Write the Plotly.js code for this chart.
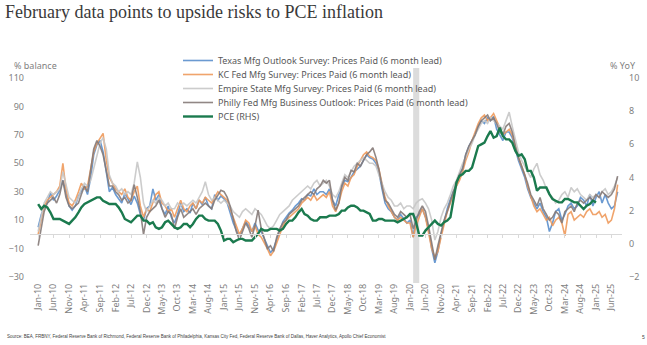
<!DOCTYPE html>
<html>
<head>
<meta charset="utf-8">
<script src="https://cdn.plot.ly/plotly-3.0.1.min.js"></script>
<style>html,body{margin:0;padding:0;background:#fff;}#chart{width:647px;height:345px;}</style>
</head>
<body>
<div id="chart"></div>
<script>
// ---- Data (monthly, Jan-10 .. Aug-25; surveys plotted with a 6 month lead) ----
const startYear = 2010;
const surveyMonths = 188; // Jan-10 .. Aug-25
const pceMonths = 181;    // Jan-10 .. Jan-25

const seriesNames = [
  "Texas Mfg Outlook Survey: Prices Paid (6 month lead)",
  "KC Fed Mfg Survey: Prices Paid (6 month lead)",
  "Empire State Mfg Survey: Prices Paid (6 month lead)",
  "Philly Fed Mfg Business Outlook: Prices Paid (6 month lead)",
  "PCE (RHS)"
];

const texas = [
  5, 14, 19, 22, 29, 24, 27, 31, 38, 30, 20, 17,
  20, 27, 30, 34, 28, 40, 56, 63, 66, 58, 44, 30,
  33, 28, 25, 22, 29, 25, 21, 27, 22, 14, 10, 18,
  20, 32, 24, 28, 18, 14, 20, 12, 8, 14, 22, 16,
  18, 15, 22, 18, 24, 21, 26, 20, 18, 28, 24, 27,
  25, 22, 15, 8, 3, -1, 4, 9, 6, 2, 8, 3,
  2, -3, -8, -13, -10, -4, 2, 9, 12, 15, 17, 20,
  22, 25, 24, 28, 27, 32, 28, 30, 30, 28, 32, 24,
  20, 28, 33, 38, 37, 40, 44, 46, 48, 52, 56, 54,
  53, 50, 44, 32, 22, 18, 16, 12, 10, 14, 11, 8,
  10, -2, 12, 14, 18, 12, 4, -10, -20, -12, 0, 10,
  18, 25, 30, 34, 42, 47, 56, 62, 66, 70, 76, 80,
  78, 82, 80, 83, 74, 70, 66, 72, 72, 68, 60, 52,
  46, 40, 32, 26, 22, 18, 22, 16, 12, 2, 8, 16,
  18, 10, 14, 20, 22, 18, 20, 26, 24, 20, 28, 20,
  26, 30, 22, 28, 22, 18, 20, 30
];

const kcFed = [
  0, 10, 20, 24, 26, 28, 30, 34, 50, 32, 22, 20,
  24, 30, 36, 32, 34, 46, 58, 64, 68, 71, 52, 40,
  36, 32, 30, 28, 32, 26, 24, 30, 34, 20, 12, 18,
  16, 22, 28, 30, 22, 20, 16, 18, 12, 18, 24, 18,
  16, 20, 22, 18, 24, 22, 26, 24, 22, 26, 30, 28,
  26, 24, 18, 12, 6, 0, 4, 10, 8, 2, 6, 0,
  -2, -6, -10, -15, -12, -6, 0, 6, 10, 12, 14, 16,
  18, 22, 24, 26, 24, 28, 24, 26, 28, 26, 30, 20,
  16, 22, 30, 36, 34, 40, 42, 48, 52, 56, 58, 55,
  54, 52, 46, 36, 26, 20, 16, 12, 10, 12, 10, 8,
  8, -2, 6, 12, 18, 12, 0, -10, -16, -12, -2, 8,
  16, 22, 28, 34, 38, 44, 52, 58, 66, 72, 78, 82,
  84, 80, 82, 85, 80, 74, 70, 72, 74, 70, 62, 54,
  48, 42, 34, 26, 20, 16, 18, 14, 10, 12, 6, 10,
  12, 8, -1, 14, 16, 10, 12, 14, 12, 16, 18, 14,
  14, 16, 12, 14, 8, 10, 18, 35
];

const empire = [
  2, 14, 22, 26, 30, 28, 30, 32, 44, 36, 26, 24,
  22, 26, 32, 36, 34, 38, 46, 56, 64, 68, 60, 42,
  36, 34, 30, 32, 28, 30, 28, 36, 51, 40, 22, 16,
  20, 24, 22, 26, 24, 20, 22, 18, 18, 22, 20, 22,
  20, 22, 24, 22, 26, 30, 37, 28, 24, 26, 24, 22,
  24, 22, 20, 16, 14, 12, 16, 18, 16, 14, 18, 16,
  14, 10, 6, 4, 6, 10, 14, 16, 18, 20, 24, 26,
  28, 30, 32, 34, 32, 36, 38, 34, 36, 38, 34, 28,
  26, 30, 36, 42, 40, 44, 48, 50, 52, 54, 52, 50,
  50, 48, 42, 36, 30, 26, 24, 20, 20, 22, 18, 20,
  20, 18, 22, 24, 25, 22, 18, 10, -4, 2, 12, 18,
  22, 28, 34, 38, 44, 50, 54, 60, 64, 70, 74, 78,
  80, 78, 82, 80, 78, 76, 74, 80, 86, 76, 66, 58,
  52, 48, 44, 40, 46, 50, 42, 38, 32, 28, 26, 22,
  24, 28, 30, 26, 33, 30, 32, 28, 26, 24, 28, 26,
  28, 26, 30, 32, 28, 30, 34, 40
];

const philly = [
  -8, 6, 16, 22, 24, 26, 22, 28, 38, 26, 20, 18,
  20, 22, 28, 34, 30, 44, 60, 66, 62, 56, 46, 34,
  34, 30, 28, 24, 26, 22, 24, 35, 26, 16, 0, 12,
  16, 18, 20, 24, 18, 12, 16, 14, 4, 12, 18, 12,
  14, 16, 18, 14, 18, 20, 22, 20, 18, 24, 28, 31,
  30, 26, 20, 10, 2, -4, 2, 8, 4, -2, 6, 17,
  4, -4, -10, -8, -12, -2, 4, 8, 10, 14, 16, 18,
  20, 24, 26, 28, 30, 28, 32, 34, 38, 36, 38, 24,
  17, 22, 34, 40, 38, 45, 44, 50, 48, 52, 56, 58,
  61, 54, 46, 34, 24, 22, 18, 14, 12, 16, 14, 12,
  14, 4, 10, 16, 20, 16, 6, -6, -18, -8, 2, 10,
  16, 24, 30, 36, 42, 46, 56, 62, 66, 70, 76, 80,
  82, 84, 80, 82, 78, 72, 70, 76, 78, 72, 62, 54,
  48, 42, 36, 28, 24, 20, 26, 18, 14, 10, 12, 16,
  14, 8, 16, 18, 20, 16, 22, 24, 22, 24, 26, 24,
  28, 26, 30, 28, 26, 28, 32, 41
];

const pce = [
  2.4, 2.1, 2.3, 2.2, 1.9, 1.5, 1.5, 1.5, 1.4, 1.3, 1.2, 1.4,
  1.6, 1.9, 2.2, 2.4, 2.5, 2.6, 2.7, 2.8, 2.8, 2.6, 2.5, 2.4,
  2.4, 2.4, 2.2, 1.9, 1.5, 1.4, 1.3, 1.5, 1.7, 1.7, 1.4, 1.4,
  1.2, 1.3, 1.0, 0.9, 1.0, 1.3, 1.4, 1.2, 1.0, 0.9, 1.0, 1.2,
  1.2, 1.0, 1.2, 1.5, 1.7, 1.7, 1.5, 1.4, 1.4, 1.4, 1.2, 0.8,
  0.2, 0.3, 0.3, 0.1, 0.2, 0.3, 0.3, 0.2, 0.2, 0.2, 0.4, 0.6,
  0.9, 0.8, 0.8, 0.9, 0.9, 0.9, 0.8, 0.9, 1.2, 1.4, 1.4, 1.6,
  1.9, 2.1, 1.8, 1.7, 1.5, 1.4, 1.4, 1.6, 1.6, 1.6, 1.7, 1.7,
  1.7, 1.8, 2.0, 2.0, 2.2, 2.3, 2.3, 2.2, 2.0, 2.0, 1.9, 1.8,
  1.4, 1.4, 1.5, 1.5, 1.4, 1.4, 1.4, 1.4, 1.3, 1.4, 1.5, 1.6,
  1.8, 1.8, 1.3, 0.5, 0.5, 0.8, 1.0, 1.2, 1.4, 1.2, 1.1, 1.3,
  1.4, 1.6, 2.5, 3.7, 4.1, 4.2, 4.4, 4.4, 4.6, 5.2, 5.9, 6.0,
  6.1, 6.5, 6.8, 6.4, 6.5, 7.0, 6.5, 6.3, 6.3, 6.1, 5.6, 5.3,
  5.4, 5.1, 4.4, 4.4, 4.0, 3.2, 3.4, 3.4, 3.4, 3.0, 2.7, 2.6,
  2.5, 2.5, 2.7, 2.7, 2.6, 2.5, 2.5, 2.3, 2.1, 2.3, 2.4, 2.6,
  2.5
];

const recessionStart = "2020-02-01";
const recessionEnd = "2020-04-01";

// ---- Build monthly date categories ----
function monthList(n) {
  const out = [];
  for (let i = 0; i < n; i++) {
    const y = startYear + Math.floor(i / 12);
    const m = (i % 12) + 1;
    out.push(y + "-" + (m < 10 ? "0" + m : m) + "-01");
  }
  return out;
}
const months = monthList(surveyMonths);
const pceDates = monthList(pceMonths);

const colors = ["#5b8fcc", "#ee9a5c", "#c6c6c6", "#857a78", "#1b7a4e"];
const font = "Noto Sans, Open Sans, sans-serif";
const legendIds = ["legend", "legend2", "legend3", "legend4", "legend5"];

const surveyData = [texas, kcFed, empire, philly];
const traces = surveyData.map((vals, i) => ({
  type: "scatter", mode: "lines",
  x: months, y: vals, name: seriesNames[i],
  line: {color: colors[i], width: 1.6},
  opacity: 0.9,
  xaxis: "x", yaxis: "y",
  legend: legendIds[i]
}));
traces.push({
  type: "scatter", mode: "lines",
  x: pceDates, y: pce, name: seriesNames[4],
  line: {color: colors[4], width: 2.4},
  xaxis: "x", yaxis: "y2",
  legend: legendIds[4]
});
// empty helper trace so the zero-line axis (ticks at 0) is drawn
traces.push({type: "scatter", mode: "lines", x: [], y: [], xaxis: "x2", yaxis: "y", showlegend: false, hoverinfo: "skip"});

const xRange = ["2009-10-13", "2025-09-13"];
const tickFont = {family: font, size: 9, color: "#7f7f7f"};

function legendAt(k) {
  return {
    x: 0.25, y: (231 - 14 * k) / 199, xanchor: "left", yanchor: "top",
    bgcolor: "rgba(0,0,0,0)", borderwidth: 0,
    font: {family: font, size: 9, color: "#595959"},
    itemwidth: 30
  };
}

const layout = {
  width: 647, height: 345,
  margin: {l: 30, r: 25, t: 78, b: 68, pad: 0},
  paper_bgcolor: "#ffffff", plot_bgcolor: "#ffffff",
  showlegend: true,
  title: {
    text: "February data points to upside risks to PCE inflation",
    font: {family: "Liberation Serif, DejaVu Serif, serif", size: 18, color: "#3a3a3a"},
    x: 5 / 647, xanchor: "left", xref: "container",
    y: 1 - 12 / 345, yanchor: "middle", yref: "container"
  },
  xaxis: {
    type: "date", range: xRange,
    tick0: "2010-01-01", dtick: "M5", tickformat: "%b-%y",
    tickangle: -90, tickfont: tickFont,
    showgrid: false, zeroline: false, showline: false, ticks: "",
    ticklabelstandoff: 4
  },
  xaxis2: {
    type: "date", matches: "x", overlaying: "x", anchor: "free", position: 30 / 140,
    tick0: "2010-01-01", dtick: "M5",
    showticklabels: false, showgrid: false, zeroline: false,
    showline: true, linecolor: "#d9d9d9", linewidth: 1,
    ticks: "outside", ticklen: 3, tickcolor: "#d9d9d9", tickwidth: 1
  },
  yaxis: {
    range: [-30, 110], tick0: -30, dtick: 20,
    tickfont: tickFont, showgrid: false, zeroline: false, showline: false,
    ticks: "", ticklabelstandoff: 5
  },
  yaxis2: {
    range: [-2, 10], tick0: -2, dtick: 2, overlaying: "y", side: "right",
    tickfont: tickFont, showgrid: false, zeroline: false, showline: false,
    ticks: "", ticklabelstandoff: 6
  },
  legend: legendAt(0),
  legend2: legendAt(1),
  legend3: legendAt(2),
  legend4: legendAt(3),
  legend5: legendAt(4),
  shapes: [{
    type: "rect", xref: "x", yref: "paper", layer: "below",
    x0: recessionStart, x1: recessionEnd, y0: -0.03, y1: 1.05,
    fillcolor: "#dcdcdc", line: {width: 0}
  }],
  annotations: [
    {text: "% balance", xref: "paper", yref: "paper", x: -0.03, y: 1.065, xanchor: "left", yanchor: "middle", showarrow: false, font: {family: font, size: 9, color: "#7f7f7f"}},
    {text: "% YoY", xref: "paper", yref: "paper", x: 1.027, y: 1.065, xanchor: "right", yanchor: "middle", showarrow: false, font: {family: font, size: 9, color: "#7f7f7f"}},
    {text: "Source: BEA, FRBNY, Federal Reserve Bank of Richmond, Federal Reserve Bank of Philadelphia, Kansas City Fed, Federal Reserve Bank of Dallas, Haver Analytics, Apollo Chief Economist", xref: "paper", yref: "paper", x: -0.042, y: -0.3, xanchor: "left", yanchor: "middle", showarrow: false, font: {family: "Liberation Sans, sans-serif", size: 4.5, color: "#404040"}},
    {text: "5", xref: "paper", yref: "paper", x: 1.03, y: -0.3, xanchor: "left", yanchor: "middle", showarrow: false, font: {family: "Liberation Sans, sans-serif", size: 5, color: "#404040"}}
  ]
};

Plotly.newPlot("chart", traces, layout, {staticPlot: true, displayModeBar: false});
</script>
</body>
</html>
